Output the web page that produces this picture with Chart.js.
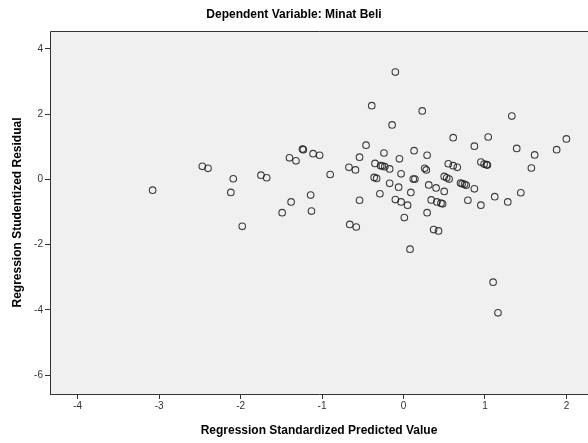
<!DOCTYPE html>
<html>
<head>
<meta charset="utf-8">
<script src="https://cdn.jsdelivr.net/npm/chart.js@4"></script>
<style>
  html, body { margin: 0; padding: 0; background: #fff; }
  #residChart { display: block; }
</style>
</head>
<body>
<canvas id="residChart" width="588" height="443"></canvas>
<script>
// standardized predicted values (x) and studentized residuals (y)
const predicted = [
  -3.08, -2.47, -2.40, -2.09, -2.12, -1.98, -1.75, -1.68, -1.49, -1.38,
  -1.40, -1.32, -1.24, -1.23, -1.11, -1.03, -1.14, -1.13, -0.90, -0.10,
  -0.39, 0.23, -0.14, 1.33, -0.46, 0.61, 1.04, 0.87, 1.39, 2.00,
  1.88, 1.61, 1.57, -0.54, -0.67, -0.59, -0.24, -0.05, 0.13, 0.29,
  -0.35, -0.28, -0.26, -0.23, -0.17, -0.03, 0.26, 0.28, 0.55, 0.61,
  0.66, 0.95, 0.99, 1.03, 1.02, -0.36, -0.33, 0.12, 0.14, 0.50,
  0.53, 0.56, -0.17, -0.06, 0.31, 0.40, 0.50, 0.70, 0.72, 0.75,
  0.77, 0.87, 0.09, -0.29, -0.54, -0.10, -0.03, 0.05, 0.34, 0.41,
  0.46, 0.48, 0.79, 0.95, 1.12, 1.28, 1.44, 0.01, 0.29, -0.66,
  -0.58, 0.37, 0.43, 0.08, 1.10, 1.16
];
const residual = [
  -0.33, 0.40, 0.34, 0.02, -0.40, -1.44, 0.13, 0.05, -1.02, -0.69,
  0.66, 0.57, 0.93, 0.91, 0.79, 0.74, -0.48, -0.97, 0.15, 3.29,
  2.26, 2.10, 1.67, 1.94, 1.05, 1.28, 1.30, 1.02, 0.95, 1.24,
  0.91, 0.75, 0.35, 0.68, 0.37, 0.29, 0.81, 0.63, 0.88, 0.74,
  0.49, 0.42, 0.41, 0.39, 0.32, 0.17, 0.34, 0.29, 0.48, 0.42,
  0.37, 0.53, 0.47, 0.44, 0.45, 0.06, 0.03, 0.01, 0.01, 0.09,
  0.05, 0.01, -0.12, -0.24, -0.17, -0.26, -0.37, -0.11, -0.13, -0.15,
  -0.18, -0.29, -0.40, -0.44, -0.64, -0.62, -0.69, -0.79, -0.63, -0.69,
  -0.73, -0.75, -0.64, -0.79, -0.53, -0.69, -0.41, -1.17, -1.02, -1.38,
  -1.46, -1.54, -1.58, -2.14, -3.15, -4.09
];

const xRange = [-4.34, 2.265];
const yRange = [-6.58, 4.55];

const points = predicted.map((x, i) => ({ x: x, y: residual[i] }));

// grey plot background + frame
const plotFrame = {
  id: 'plotFrame',
  beforeDatasetsDraw(chart) {
    const { ctx, chartArea: a } = chart;
    ctx.save();
    ctx.fillStyle = '#f0f0f0';
    ctx.fillRect(a.left, a.top, a.right - a.left, a.bottom - a.top);
    ctx.strokeStyle = '#333';
    ctx.lineWidth = 1;
    ctx.beginPath();
    ctx.moveTo(a.left + 0.5, a.bottom);
    ctx.lineTo(a.left + 0.5, a.top + 0.5);
    ctx.lineTo(a.right, a.top + 0.5);
    ctx.stroke();
    ctx.restore();
  }
};

const tickFont = { family: '"Liberation Sans", Arial, sans-serif', size: 10 };
const titleFont = { family: '"Liberation Sans", Arial, sans-serif', size: 12, weight: 'bold' };

new Chart(document.getElementById('residChart'), {
  type: 'scatter',
  data: {
    datasets: [{
      data: points,
      pointStyle: 'circle',
      pointRadius: 3.3,
      pointHoverRadius: 3.3,
      borderWidth: 1.1,
      borderColor: 'rgba(30,30,30,0.85)',
      backgroundColor: 'rgba(0,0,0,0)'
    }]
  },
  options: {
    responsive: false,
    animation: false,
    // the plot runs off the right edge in the original
    layout: { autoPadding: false, padding: { left: 0, top: 0, bottom: 0, right: 0 } },
    plugins: {
      legend: { display: false },
      tooltip: { enabled: false },
      title: {
        display: true,
        text: 'Dependent Variable: Minat Beli',
        color: '#000',
        font: titleFont,
        padding: { top: 7, bottom: 9.6 }
      }
    },
    scales: {
      x: {
        type: 'linear',
        min: xRange[0],
        max: xRange[1],
        afterFit: s => { s.height = 49; s.paddingLeft = 0; s.paddingRight = 0; },
        border: { display: true, color: '#333' },
        grid: { display: true, drawOnChartArea: false, tickLength: 5, color: '#333' },
        ticks: { stepSize: 1, includeBounds: false, padding: 1, color: '#333', font: tickFont },
        title: {
          display: true,
          text: 'Regression Standardized Predicted Value',
          color: '#000',
          font: titleFont,
          padding: { top: 0, bottom: 5 }
        }
      },
      y: {
        type: 'linear',
        min: yRange[0],
        max: yRange[1],
        afterFit: s => { s.width = 50; s.paddingTop = 0; s.paddingBottom = 0; },
        border: { display: true, color: '#333' },
        grid: { display: true, drawOnChartArea: false, tickLength: 5, color: '#333' },
        ticks: { stepSize: 2, includeBounds: false, padding: 2, color: '#333', font: tickFont },
        title: {
          display: true,
          text: 'Regression Studentized Residual',
          color: '#000',
          font: titleFont,
          padding: { top: 10, bottom: 0 }
        }
      }
    }
  },
  plugins: [plotFrame]
});
</script>
</body>
</html>
